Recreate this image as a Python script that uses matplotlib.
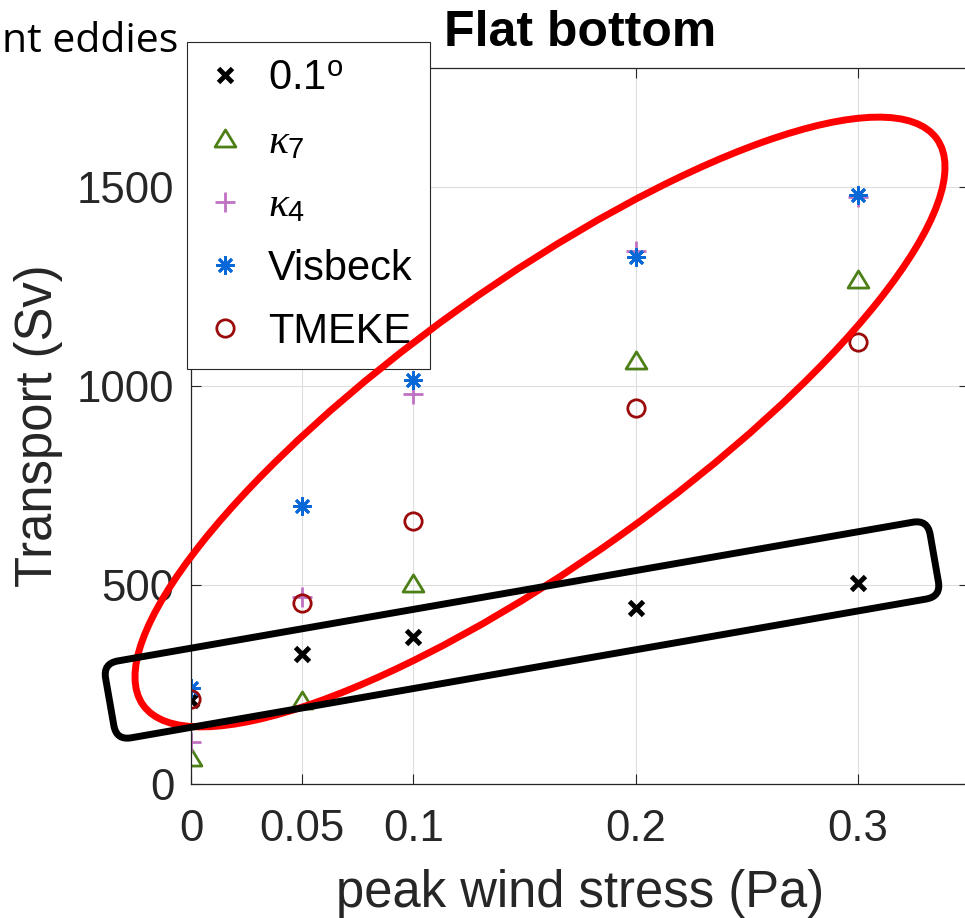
import matplotlib
matplotlib.use("Agg")
import matplotlib.pyplot as plt
from matplotlib.patches import Ellipse, FancyBboxPatch
from matplotlib.path import Path
from matplotlib.transforms import Affine2D

# Peak wind stress (Pa) and transport (Sv) for each eddy treatment
wind_stress = [0, 0.05, 0.1, 0.2, 0.3]
res_01deg = [211, 327, 369, 442, 505]
kappa7 = [68, 211, 505, 1065, 1270]
kappa4 = [105, 470, 980, 1340, 1475]
visbeck = [241, 698, 1015, 1326, 1480]
tmeke = [213, 455, 661, 945, 1111]

series_labels = ["0.1$^{\\mathrm{o}}$", r"$\kappa_7$", r"$\kappa_4$", "Visbeck", "TMEKE"]
x_ticks = [0, 0.05, 0.1, 0.2, 0.3]
x_tick_labels = ["0", "0.05", "0.1", "0.2", "0.3"]
y_ticks = [0, 500, 1000, 1500]
y_tick_labels = ["0", "500", "1000", "1500"]

plt.rcParams["font.family"] = ["Liberation Sans", "DejaVu Sans"]
plt.rcParams["mathtext.fontset"] = "custom"
plt.rcParams["mathtext.rm"] = "Liberation Sans"
plt.rcParams["mathtext.it"] = "Liberation Serif:italic"

W, H = 965, 918
fig = plt.figure(figsize=(W / 100, H / 100), dpi=100)
ax = fig.add_axes([191 / W, 134 / H, 778 / W, 716 / H])

ink = "#262626"
green = "#4d7f17"
orchid = "#c071c2"
blue = "#0868d8"
darkred = "#9b0b0b"

# wide, flat triangle like MATLAB's '^'
tri = Path([(0, 0.82), (-1, -0.82), (1, -0.82), (0, 0.82)],
           [Path.MOVETO, Path.LINETO, Path.LINETO, Path.CLOSEPOLY])

ax.plot(wind_stress, res_01deg, ls="none", marker="x", ms=10.5, mew=3.5,
        color="black", label=series_labels[0])
ax.plot(wind_stress, kappa7, ls="none", marker=tri, ms=15, mew=2,
        mfc="none", mec=green, label=series_labels[1])
ax.plot(wind_stress, kappa4, ls="none", marker="+", ms=14, mew=2,
        color=orchid, label=series_labels[2])
ax.plot(wind_stress, visbeck, ls="none", marker=(8, 2, 0), ms=13, mew=2,
        color=blue, label=series_labels[3])
ax.plot(wind_stress, tmeke, ls="none", marker="o", ms=12.5, mew=2,
        mfc="none", mec=darkred, label=series_labels[4])

ax.set_xlim(0, 0.35)
ax.set_ylim(0, 1800)
ax.set_xticks(x_ticks)
ax.set_xticklabels(x_tick_labels)
ax.set_yticks(y_ticks)
ax.set_yticklabels(y_tick_labels)
ax.grid(True, color="#dedede", lw=0.8)
ax.set_axisbelow(True)
for sp in ax.spines.values():
    sp.set_color(ink)
    sp.set_linewidth(0.9)
ax.tick_params(direction="in", length=7, width=0.8, top=True, right=True,
               labelsize=31.5, colors=ink)
ax.tick_params(axis="x", pad=18)
ax.tick_params(axis="y", pad=12)

ax.set_xlabel("peak wind stress (Pa)", fontsize=36.5, labelpad=14, color=ink)
ax.set_ylabel("Transport (Sv)", fontsize=36.5, labelpad=10, color=ink)
ax.set_title("Flat bottom", fontsize=36, fontweight="bold", pad=16)

leg = ax.legend(loc="upper left", bbox_to_anchor=(187 / W, 1 - 42 / H),
                bbox_transform=fig.transFigure, borderaxespad=0, fontsize=30,
                frameon=True, fancybox=False, edgecolor=ink, framealpha=1,
                handlelength=1.0, handletextpad=0.55, borderpad=0.4,
                labelspacing=0.56, numpoints=1)
leg.get_frame().set_linewidth(0.8)

# highlight shapes drawn over the axes (inch coordinates)
ring = Ellipse((5.40, 4.96), 9.75, 2.78, angle=35.5,
               transform=fig.dpi_scale_trans, fill=False,
               ec="#ff0000", lw=5, zorder=10)
fig.add_artist(ring)

cx, cy, bw, bh = 5.22, 2.88, 8.37, 0.78
box = FancyBboxPatch((cx - bw / 2, cy - bh / 2), bw, bh,
                     boxstyle="round,pad=0,rounding_size=0.15",
                     transform=Affine2D().rotate_deg_around(cx, cy, 9.9) + fig.dpi_scale_trans,
                     fill=False, ec="black", lw=5, zorder=11)
fig.add_artist(box)

fig.text(2 / W, 1 - 52 / H, "nt eddies", ha="left", va="baseline",
         fontsize=29.5, family="Open Sans", color="black")

fig.savefig("out.png", dpi=100)
